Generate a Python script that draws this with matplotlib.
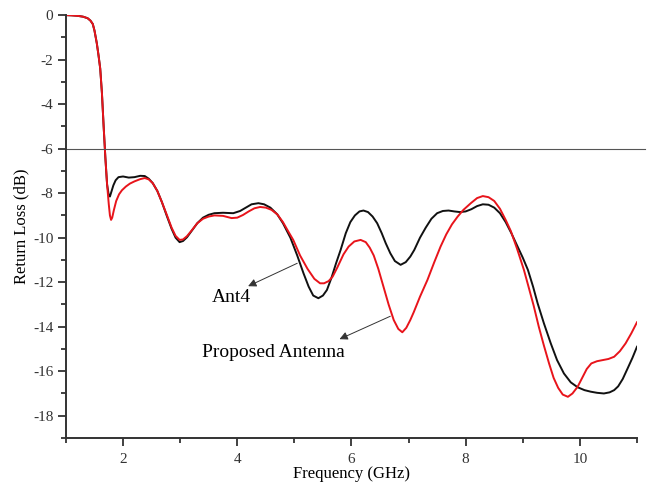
import matplotlib.pyplot as plt
from matplotlib.ticker import MultipleLocator

plt.rcParams['font.family'] = ['Liberation Serif', 'DejaVu Serif']
plt.rcParams['axes.unicode_minus'] = False

# Ant4 (black curve)
ant4_f = [1.0, 1.1, 1.2, 1.3, 1.38, 1.43, 1.47, 1.5, 1.54, 1.57, 1.6, 1.63, 1.66,
          1.69, 1.72, 1.75, 1.77, 1.8, 1.83, 1.87, 1.92, 2.0, 2.1, 2.2, 2.3, 2.38,
          2.45, 2.52, 2.6, 2.68, 2.77, 2.85, 2.92, 2.99, 3.05, 3.12, 3.2, 3.3, 3.4,
          3.5, 3.6, 3.75, 3.93, 4.05, 4.15, 4.25, 4.37, 4.47, 4.58, 4.7, 4.8, 4.93,
          5.05, 5.16, 5.25, 5.33, 5.42, 5.5, 5.57, 5.65, 5.73, 5.81, 5.9, 5.98,
          6.06, 6.14, 6.21, 6.29, 6.37, 6.45, 6.53, 6.6, 6.68, 6.76, 6.86, 6.95,
          7.03, 7.1, 7.2, 7.3, 7.4, 7.5, 7.6, 7.7, 7.8, 7.9, 8.0, 8.1, 8.2, 8.3,
          8.4, 8.5, 8.6, 8.7, 8.8, 8.9, 9.0, 9.09, 9.18, 9.26, 9.37, 9.49, 9.6,
          9.72, 9.84, 9.96, 10.08, 10.19, 10.3, 10.42, 10.52, 10.6, 10.67, 10.75,
          10.84, 10.92, 11.0]
ant4_s = [0.0, -0.01, -0.03, -0.07, -0.14, -0.25, -0.4, -0.7, -1.26, -1.8, -2.4, -3.5, -5.0,
          -6.4, -7.6, -8.1, -8.15, -7.9, -7.65, -7.42, -7.28, -7.25, -7.3, -7.28, -7.22, -7.23,
          -7.35, -7.55, -7.9, -8.4, -9.05, -9.6, -10.0, -10.2, -10.15, -9.98, -9.7, -9.35, -9.1,
          -8.97, -8.9, -8.88, -8.9, -8.8, -8.65, -8.5, -8.45, -8.5, -8.65, -8.95, -9.35, -10.0,
          -10.8, -11.6, -12.2, -12.6, -12.72, -12.6, -12.35, -11.8, -11.15, -10.55, -9.8, -9.3,
          -9.0, -8.82, -8.78, -8.85, -9.05, -9.35, -9.8, -10.25, -10.7, -11.05, -11.22, -11.1,
          -10.85, -10.55, -10.0, -9.55, -9.15, -8.9, -8.8, -8.78, -8.82, -8.85, -8.82, -8.72, -8.58, -8.5,
          -8.52, -8.65, -8.9, -9.3, -9.8, -10.35, -10.9, -11.45, -12.2, -12.95, -13.85, -14.75, -15.5,
          -16.1, -16.5, -16.72, -16.85, -16.92, -16.97, -17.0, -16.95, -16.85, -16.68, -16.35,
          -15.85, -15.4, -14.9]

# Proposed antenna (red curve)
prop_f = [1.0, 1.1, 1.2, 1.3, 1.38, 1.43, 1.47, 1.5, 1.54, 1.57, 1.6, 1.63, 1.66,
          1.69, 1.72, 1.75, 1.77, 1.79, 1.81, 1.84, 1.88, 1.93, 1.98, 2.05, 2.12, 2.2,
          2.3, 2.38, 2.45, 2.52, 2.6, 2.68, 2.77, 2.85, 2.92, 2.99, 3.05, 3.12, 3.2,
          3.3, 3.4, 3.5, 3.6, 3.75, 3.9, 4.0, 4.1, 4.2, 4.3, 4.4, 4.5, 4.6, 4.7, 4.8,
          4.9, 4.98, 5.1, 5.23, 5.35, 5.45, 5.52, 5.6, 5.67, 5.75, 5.86, 5.95, 6.05,
          6.16, 6.25, 6.32, 6.39, 6.47, 6.56, 6.65, 6.74, 6.82, 6.89, 6.96, 7.03, 7.09,
          7.2, 7.33, 7.45, 7.56, 7.66, 7.76, 7.86, 7.96, 8.09, 8.2, 8.3, 8.4, 8.5, 8.6,
          8.7, 8.79, 8.9, 9.02, 9.1, 9.19, 9.28, 9.37, 9.46, 9.54, 9.62, 9.7, 9.79,
          9.87, 9.96, 10.05, 10.12, 10.2, 10.3, 10.4, 10.5, 10.6, 10.7, 10.8, 10.9, 11.0]
prop_s = [0.0, -0.01, -0.03, -0.07, -0.14, -0.25, -0.4, -0.7, -1.26, -1.8, -2.4, -3.5, -5.0,
          -6.4, -7.6, -8.5, -9.0, -9.2, -9.1, -8.75, -8.35, -8.05, -7.87, -7.7, -7.57, -7.47,
          -7.37, -7.32, -7.38, -7.55, -7.9, -8.4, -9.0, -9.55, -9.92, -10.1, -10.08, -9.93, -9.68,
          -9.35, -9.15, -9.05, -9.0, -9.02, -9.12, -9.1, -8.98, -8.82, -8.68, -8.62, -8.65, -8.75, -8.95, -9.3,
          -9.75, -10.1, -10.8, -11.4, -11.85, -12.05, -12.05, -11.95, -11.75, -11.35, -10.75, -10.4, -10.17,
          -10.1, -10.2, -10.45, -10.8, -11.4, -12.2, -13.0, -13.7, -14.1, -14.25, -14.05, -13.7, -13.35,
          -12.65, -11.9, -11.1, -10.4, -9.85, -9.4, -9.05, -8.75, -8.45, -8.22, -8.13, -8.18, -8.35, -8.7,
          -9.2, -9.7, -10.5, -11.45, -12.2, -13.05, -14.0, -14.85, -15.65, -16.3, -16.75, -17.05, -17.15,
          -17.0, -16.7, -16.25, -15.9, -15.65, -15.55, -15.5, -15.45, -15.35, -15.1, -14.75, -14.3, -13.8]

fig = plt.figure(figsize=(6.53, 4.88), dpi=100)
ax = fig.add_axes([0.101, 0.1025, 0.8745, 0.8665])

ax.plot(ant4_f, ant4_s, color='#111111', lw=1.4)
ax.plot(prop_f, prop_s, color='#e8141b', lw=1.4)
ax.axhline(-6, xmin=0, xmax=1.014, color='#555555', lw=0.8, clip_on=False)

ax.set_xlim(1, 11)
ax.set_ylim(-19, 0)
ax.xaxis.set_major_locator(MultipleLocator(2))
ax.xaxis.set_minor_locator(MultipleLocator(1))
ax.yaxis.set_major_locator(MultipleLocator(2))
ax.yaxis.set_minor_locator(MultipleLocator(1))
for s in ['top', 'right']:
    ax.spines[s].set_visible(False)
for s in ['left', 'bottom']:
    ax.spines[s].set_linewidth(1.4)
    ax.spines[s].set_color('#333333')
ax.tick_params(which='major', direction='out', length=6, width=1.3,
               labelsize=11, colors='#333333')
ax.tick_params(which='minor', direction='out', length=3.5, width=1.3, colors='#333333')
ax.tick_params(axis='x', pad=5)
ax.tick_params(axis='y', pad=3)

ax.set_xlabel('Frequency (GHz)', fontsize=12, labelpad=0)
ax.set_ylabel('Return Loss (dB)', fontsize=12, labelpad=3)

arrow = dict(arrowstyle='-|>', color='#333333', lw=0.7, mutation_scale=12,
             shrinkA=0, shrinkB=0)
ax.annotate('', xy=(4.19, -12.18), xytext=(5.05, -11.15), arrowprops=arrow)
ax.annotate('', xy=(5.79, -14.56), xytext=(6.68, -13.53), arrowprops=arrow)
ax.text(3.89, -12.67, 'Ant4', fontsize=14, ha='center', va='center')
ax.text(4.63, -15.15, 'Proposed Antenna', fontsize=14, ha='center', va='center')

fig.savefig('out.png', dpi=100)
